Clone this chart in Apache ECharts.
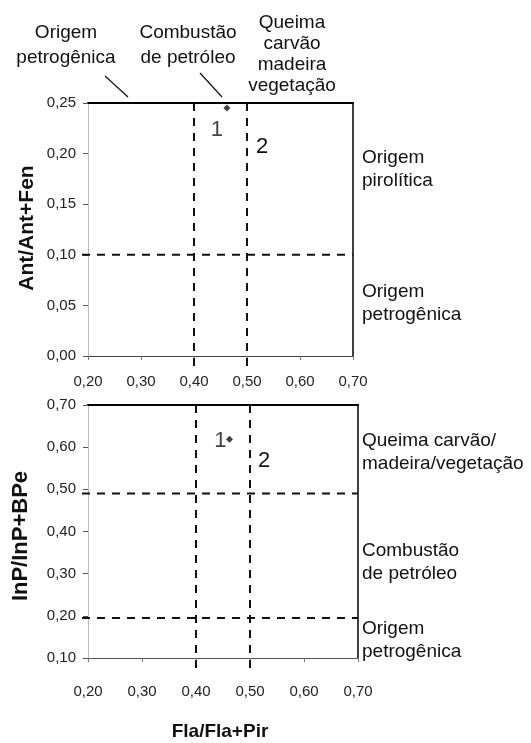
<!DOCTYPE html>
<html><head><meta charset="utf-8">
<script src="https://cdn.jsdelivr.net/npm/echarts@6/dist/echarts.min.js"></script>
<style>html,body{margin:0;padding:0;background:#fff}#c{width:531px;height:743px}</style>
</head><body><div id="c"></div>
<script>
// ---- data ----
const xTickLabels = ['0,20','0,30','0,40','0,50','0,60','0,70'];
const topYTickLabels = ['0,00','0,05','0,10','0,15','0,20','0,25'];
const botYTickLabels = ['0,10','0,20','0,30','0,40','0,50','0,60','0,70'];
const sampleNames = ['1'];
const flaFlaPir = [0.462];
const antAntFen = [0.245];
const inpInpBpe = [0.619];
const flaThresholds = [0.40, 0.50];
const antThresholds = [0.10];
const inpThresholds = [0.195, 0.49];

const FONT = '"Liberation Sans", Arial, sans-serif';
const fmt = v => v.toFixed(2).replace('.', ',');

const chart = echarts.init(document.getElementById('c'), null, {renderer: 'canvas'});

function baseAxisLabel(margin) {
  return {fontFamily: FONT, fontSize: 15, color: '#222', margin: margin, formatter: fmt};
}
const hidden = {axisTick: {show: false}, axisLabel: {show: false}, splitLine: {show: false}};

const option = {
  animation: false,
  backgroundColor: '#fff',
  grid: [
    {left: 88, top: 103, width: 265, height: 253},
    {left: 88, top: 405, width: 270, height: 253}
  ],
  xAxis: [
    {gridIndex: 0, type: 'value', min: 0.2, max: 0.7, interval: 0.1,
     axisLine: {onZero: false, lineStyle: {color: '#444', width: 1}}, axisTick: {length: 4, lineStyle: {color: '#777'}},
     splitLine: {show: false}, axisLabel: baseAxisLabel(18)},
    {gridIndex: 1, type: 'value', min: 0.2, max: 0.7, interval: 0.1,
     axisLine: {onZero: false, lineStyle: {color: '#555', width: 1}}, axisTick: {length: 4, lineStyle: {color: '#777'}},
     splitLine: {show: false}, axisLabel: baseAxisLabel(26)},
    Object.assign({gridIndex: 0, type: 'value', position: 'top', min: 0.2, max: 0.7,
     axisLine: {onZero: false, lineStyle: {color: '#000', width: 2}}}, hidden),
    Object.assign({gridIndex: 1, type: 'value', position: 'top', min: 0.2, max: 0.7,
     axisLine: {onZero: false, lineStyle: {color: '#000', width: 2}}}, hidden)
  ],
  yAxis: [
    {gridIndex: 0, type: 'value', min: 0, max: 0.25, interval: 0.05,
     axisLine: {show: true, onZero: false, lineStyle: {color: '#aaa', type: 'dotted', width: 1}},
     axisTick: {show: true, length: 5, lineStyle: {color: '#555'}},
     splitLine: {show: false}, axisLabel: baseAxisLabel(12)},
    {gridIndex: 1, type: 'value', min: 0.1, max: 0.7, interval: 0.1,
     axisLine: {show: true, onZero: false, lineStyle: {color: '#aaa', type: 'dotted', width: 1}},
     axisTick: {show: true, length: 5, lineStyle: {color: '#555'}},
     splitLine: {show: false}, axisLabel: baseAxisLabel(12)},
    Object.assign({gridIndex: 0, type: 'value', position: 'right', min: 0, max: 0.25,
     axisLine: {show: true, onZero: false, lineStyle: {color: '#000', width: 1.5}}}, hidden),
    Object.assign({gridIndex: 1, type: 'value', position: 'right', min: 0.1, max: 0.7,
     axisLine: {show: true, onZero: false, lineStyle: {color: '#000', width: 1.5}}}, hidden)
  ],
  series: [
    {type: 'scatter', xAxisIndex: 0, yAxisIndex: 0, symbol: 'diamond', symbolSize: 7,
     itemStyle: {color: '#111'},
     data: flaFlaPir.map((x, i) => ({value: [x, antAntFen[i]], name: sampleNames[i]})),
     label: {show: true, position: 'inside', formatter: p => p.name, offset: [-10, 22],
             fontFamily: FONT, fontSize: 22, color: '#111'}},
    {type: 'scatter', xAxisIndex: 1, yAxisIndex: 1, symbol: 'diamond', symbolSize: 7,
     itemStyle: {color: '#111'},
     data: flaFlaPir.map((x, i) => ({value: [x, inpInpBpe[i]], name: sampleNames[i]})),
     label: {show: true, position: 'inside', formatter: p => p.name, offset: [-9, 2],
             fontFamily: FONT, fontSize: 22, color: '#111'}}
  ]
};
chart.setOption(option);

// ---- reference lines & annotations (positions from the axes) ----
const g = [];
const dash = {stroke: '#111', lineWidth: 2, lineDash: [8, 7]};
function px(gi, pt) { return chart.convertToPixel({xAxisIndex: gi, yAxisIndex: gi}, pt); }
const yRanges = [[0, 0.25], [0.1, 0.7]];
[0, 1].forEach(gi => {
  const [y0, y1] = yRanges[gi];
  flaThresholds.forEach(t => {
    const a = px(gi, [t, y1]), b = px(gi, [t, y0]);
    g.push({type: 'line', shape: {x1: a[0], y1: a[1], x2: b[0], y2: b[1] + 14}, style: dash, z: 5});
  });
  (gi === 0 ? antThresholds : inpThresholds).forEach(t => {
    const a = px(gi, [0.2, t]), b = px(gi, [0.7, t]);
    g.push({type: 'line', shape: {x1: a[0] - 6, y1: a[1], x2: b[0], y2: b[1]}, style: dash, z: 5});
  });
});
function txt(x, y, s, opts) {
  g.push({type: 'text', x: x, y: y, z: 10,
    style: Object.assign({text: s, fontFamily: FONT, fontSize: 19, lineHeight: 23, fill: '#111',
      align: 'center', verticalAlign: 'middle'}, opts || {})});
}
txt(66, 45, 'Origem\npetrogênica', {lineHeight: 25});
txt(188, 45, 'Combustão\nde petróleo', {lineHeight: 25});
txt(292, 54, 'Queima\ncarvão\nmadeira\nvegetação', {lineHeight: 21});
txt(362, 169, 'Origem\npirolítica', {align: 'left'});
txt(362, 303, 'Origem\npetrogênica', {align: 'left'});
txt(362, 452, 'Queima carvão/\nmadeira/vegetação', {align: 'left'});
txt(362, 562, 'Combustão\nde petróleo', {align: 'left'});
txt(362, 640, 'Origem\npetrogênica', {align: 'left'});
txt(262, 147, '2', {fontSize: 22});
txt(264, 461, '2', {fontSize: 22});
g.push({type: 'line', shape: {x1: 105, y1: 76, x2: 128, y2: 97}, style: {stroke: '#111', lineWidth: 1.2}});
g.push({type: 'line', shape: {x1: 200, y1: 73, x2: 222, y2: 97}, style: {stroke: '#111', lineWidth: 1.2}});
g.push({type: 'text', x: 27, y: 228, rotation: Math.PI / 2, z: 10,
  style: {text: 'Ant/Ant+Fen', fontFamily: FONT, fontSize: 21, fontWeight: 'bold', fill: '#111', align: 'center', verticalAlign: 'middle'}});
g.push({type: 'text', x: 21, y: 536, rotation: Math.PI / 2, z: 10,
  style: {text: 'InP/InP+BPe', fontFamily: FONT, fontSize: 22, fontWeight: 'bold', fill: '#111', align: 'center', verticalAlign: 'middle'}});
g.push({type: 'text', x: 220, y: 732, z: 10,
  style: {text: 'Fla/Fla+Pir', fontFamily: FONT, fontSize: 19, fontWeight: 'bold', fill: '#111', align: 'center', verticalAlign: 'middle'}});
chart.setOption({graphic: g});
</script>
</body></html>
